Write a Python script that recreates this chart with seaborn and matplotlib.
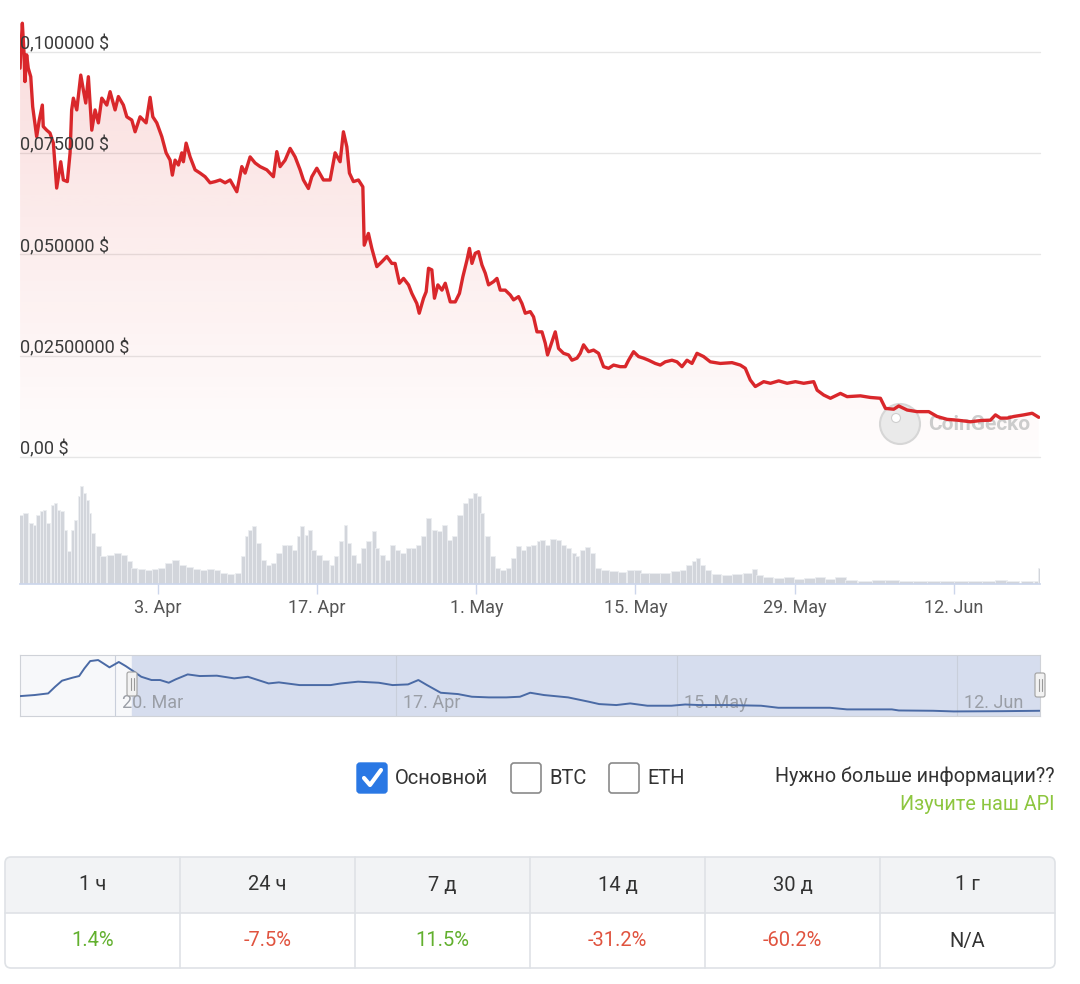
import numpy as np
import pandas as pd
import matplotlib
matplotlib.use("Agg")
import matplotlib.pyplot as plt
import matplotlib.dates as mdates
import matplotlib.transforms as mtransforms
from matplotlib.colors import to_rgb
from matplotlib.patches import FancyBboxPatch, Rectangle, Circle
import seaborn as sns

start = pd.Timestamp("2023-03-21")

# price (USD), days after 21 Mar
price_day = [0.86, 0.94, 1.06, 1.21, 1.29, 1.44, 1.58, 1.80, 1.97, 2.09,
             2.32, 2.55, 2.82, 2.90, 3.20, 3.49, 3.79, 4.08, 4.44, 4.67,
             5.02, 5.26, 5.40, 5.55, 5.85, 6.20, 6.43, 6.64, 6.87, 7.17,
             7.46, 7.75, 8.05, 8.49, 8.78, 9.22, 9.51, 9.95, 10.25, 10.69,
             10.98, 11.42, 11.95, 12.30, 12.54, 12.89, 13.33, 13.71, 14.06, 14.26,
             14.50, 14.79, 15.09, 15.23, 15.47, 15.82, 16.26, 16.70, 17.14, 17.58,
             18.02, 18.46, 18.90, 19.34, 19.93, 20.37, 20.66, 21.10, 21.54, 21.98,
             22.57, 23.15, 23.45, 23.74, 24.18, 24.62, 25.06, 25.50, 25.79, 26.23,
             26.53, 26.97, 27.55, 28.14, 28.58, 29.02, 29.31, 29.61, 29.84, 30.19,
             30.63, 31.02, 31.14, 31.51,
             31.81, 32.25, 32.69, 33.13, 33.57, 33.86, 34.24, 34.60, 35.04, 35.33,
             35.77, 35.98, 36.36, 36.59, 36.80, 37.09, 37.32, 37.62, 37.98, 38.27,
             38.71, 39.15, 39.52, 39.82, 40.18, 40.40, 40.62, 40.91, 41.20, 41.50,
             41.79, 42.08, 42.52, 42.82, 43.11, 43.55, 43.99, 44.28, 44.72, 45.02,
             45.31, 45.75, 46.04, 46.34, 46.78, 47.07, 47.27, 47.51, 47.95, 48.24,
             48.68, 49.12, 49.42, 49.86, 50.15, 50.44, 50.88, 51.32, 51.76, 52.20,
             52.64, 53.08, 53.67, 54.11, 54.40, 54.84, 55.28, 55.72, 56.16, 56.75,
             57.19, 57.63, 58.22, 58.66, 59.10,
             59.54, 59.98, 60.42, 61.00, 61.59, 62.47, 63.50, 64.23, 64.67, 65.11,
             65.55, 66.29, 66.88, 67.61, 68.35, 69.08, 69.81, 70.69, 70.99, 71.57,
             72.16, 73.04, 73.63, 74.80, 75.68, 76.56, 77.00, 77.73, 78.17, 78.91,
             79.79, 80.81, 81.55, 82.43, 83.31, 84.48, 85.36, 86.24, 86.68, 87.12,
             87.71, 88.29, 89.17, 89.91, 90.49]
price_usd = [0.0960, 0.1010, 0.1071, 0.0997, 0.0927, 0.0993, 0.0960, 0.0939, 0.0865, 0.0840,
             0.0791, 0.0832, 0.0869, 0.0816, 0.0807, 0.0800, 0.0775, 0.0664, 0.0729, 0.0684,
             0.0680, 0.0751, 0.0857, 0.0886, 0.0857, 0.0943, 0.0906, 0.0874, 0.0939, 0.0807,
             0.0857, 0.0825, 0.0886, 0.0869, 0.0902, 0.0857, 0.0890, 0.0869, 0.0840, 0.0832,
             0.0803, 0.0840, 0.0825, 0.0888, 0.0840, 0.0825, 0.0791, 0.0751, 0.0733, 0.0696,
             0.0733, 0.0721, 0.0751, 0.0729, 0.0775, 0.0741, 0.0709, 0.0701, 0.0692, 0.0677,
             0.0680, 0.0684, 0.0677, 0.0684, 0.0655, 0.0717, 0.0701, 0.0741, 0.0726, 0.0717,
             0.0709, 0.0692, 0.0754, 0.0717, 0.0733, 0.0762, 0.0741, 0.0709, 0.0684, 0.0663,
             0.0692, 0.0713, 0.0684, 0.0684, 0.0751, 0.0729, 0.0803, 0.0766, 0.0701, 0.0680,
             0.0684, 0.0667, 0.0523, 0.0552,
             0.0515, 0.0470, 0.0482, 0.0495, 0.0478, 0.0478, 0.0429, 0.0441, 0.0425, 0.0404,
             0.0379, 0.0355, 0.0392, 0.0408, 0.0466, 0.0462, 0.0392, 0.0425, 0.0412, 0.0429,
             0.0383, 0.0383, 0.0404, 0.0445, 0.0486, 0.0515, 0.0478, 0.0503, 0.0507, 0.0474,
             0.0454, 0.0425, 0.0433, 0.0441, 0.0412, 0.0412, 0.0400, 0.0388, 0.0396, 0.0379,
             0.0355, 0.0359, 0.0346, 0.0309, 0.0309, 0.0281, 0.0252, 0.0272, 0.0309, 0.0268,
             0.0256, 0.0252, 0.0239, 0.0244, 0.0256, 0.0277, 0.0260, 0.0264, 0.0256, 0.0223,
             0.0219, 0.0227, 0.0223, 0.0223, 0.0239, 0.0260, 0.0248, 0.0244, 0.0239, 0.0231,
             0.0227, 0.0235, 0.0239, 0.0235, 0.0223,
             0.0239, 0.0231, 0.0256, 0.0248, 0.0235, 0.0231, 0.0233, 0.0227, 0.0219, 0.0190,
             0.0174, 0.0186, 0.0182, 0.0188, 0.0182, 0.0186, 0.0182, 0.0186, 0.0165, 0.0153,
             0.0145, 0.0157, 0.0149, 0.0151, 0.0147, 0.0145, 0.0120, 0.0118, 0.0126, 0.0116,
             0.0112, 0.0112, 0.0100, 0.0093, 0.0091, 0.0087, 0.0090, 0.0091, 0.0104, 0.0096,
             0.0096, 0.0100, 0.0104, 0.0108, 0.0098]

# trading volume (relative units)
vol_day = [0.92, 1.36, 1.82, 2.12, 2.43, 2.73, 3.03, 3.34, 3.70, 3.94,
           4.25, 4.55, 4.85, 5.16, 5.46, 5.76, 6.07, 6.28, 6.52, 6.82,
           7.03, 7.28, 7.73, 8.19, 8.79, 9.40, 10.01, 10.46, 10.92, 11.52,
           12.13, 12.74, 13.34, 13.94, 14.55, 15.16, 15.77, 16.37, 16.98, 17.59,
           18.19, 18.79, 19.40, 20.01, 20.47, 20.77, 21.07, 21.46, 21.83, 22.28,
           22.74, 23.19, 23.64, 24.10, 24.55, 25.01, 25.40, 25.70, 26.07, 26.37,
           26.68, 27.13, 27.74, 28.35, 28.65, 29.10, 29.50, 29.77, 30.17, 30.62,
           31.07, 31.53, 31.98, 32.29, 32.74, 33.19, 33.65, 34.10, 34.56, 35.02,
           35.47, 35.92, 36.38, 36.83, 37.29, 37.74, 38.20, 38.65, 39.10, 39.56,
           40.02, 40.47, 40.86, 41.23, 41.53, 41.99, 42.44, 42.89, 43.35, 43.80,
           44.26, 44.71, 45.17, 45.62, 46.07, 46.53,
           46.84, 47.29, 47.75, 48.20, 48.65, 49.11, 49.57, 49.87, 50.33, 50.77,
           51.23, 51.69, 52.30, 53.05, 53.81, 54.57, 55.18, 55.78, 56.69, 57.60,
           58.51, 59.27, 59.72, 60.18, 60.48, 60.93, 61.39, 62.15, 63.05, 63.96,
           64.88, 65.48, 65.93, 66.69, 67.61, 68.52, 69.42, 70.33, 71.24, 72.15,
           73.05, 73.97, 75.19, 76.39, 77.61, 78.82, 80.03, 81.24, 82.45, 83.67,
           84.88, 86.09, 87.16, 88.21, 89.43, 90.33, 90.58]
vol_amount = [71.6, 73.0, 63.0, 61.0, 71.6, 75.0, 76.8, 63.0, 82.0, 83.7,
              76.8, 75.0, 56.0, 33.8, 56.0, 66.5, 90.6, 100.9, 94.0, 87.0,
              73.0, 52.7, 38.9, 28.6, 30.3, 32.0, 30.3, 23.4, 16.5, 15.8,
              14.8, 15.5, 16.5, 21.7, 25.1, 20.0, 17.2, 15.8, 14.1, 15.5,
              14.8, 11.4, 10.7, 11.4, 28.6, 49.2, 56.0, 60.3, 42.4, 25.1,
              20.0, 21.7, 32.0, 40.6, 40.6, 35.5, 49.2, 59.6, 51.0, 56.0,
              35.5, 30.3, 25.1, 20.0, 28.6, 44.0, 61.3, 42.4, 30.3, 21.7,
              37.2, 44.0, 54.4, 37.2, 30.3, 25.1, 40.6, 35.5, 32.0, 37.2,
              37.2, 40.6, 49.2, 68.2, 56.0, 54.4, 61.3, 45.8, 49.2, 71.6,
              83.7, 88.8, 94.0, 90.6, 73.0, 49.2, 28.6, 16.5, 14.8, 16.5,
              26.9, 39.6, 35.5, 38.9, 40.6, 44.0,
              45.8, 40.6, 46.5, 45.8, 40.6, 37.2, 32.0, 28.6, 35.5, 38.2,
              32.0, 16.5, 14.1, 13.1, 12.0, 14.1, 14.8, 11.4, 11.4, 11.4,
              13.1, 14.8, 20.0, 23.4, 26.9, 20.0, 14.8, 10.7, 9.6, 10.7,
              11.4, 15.8, 9.6, 7.2, 6.2, 6.9, 5.5, 6.2, 6.9, 5.5,
              6.9, 3.8, 3.4, 3.8, 4.5, 3.4, 2.8, 2.8, 3.1, 3.1,
              3.4, 3.4, 4.5, 3.4, 3.1, 3.4, 16.5]

# navigator (daily) price
nav_day = [-10.47, -9.03, -7.66, -6.97, -6.28, -5.25, -4.57, -4.05, -3.47, -2.68,
           -2.16, -1.55, -0.62, 0.07, 0.76, 1.62, 2.64, 3.50, 4.36, 5.05,
           6.25, 7.45, 9.16, 10.89, 12.25, 14.32, 15.34, 17.41, 20.50, 21.52,
           23.24, 25.30, 26.68, 28.22, 29.25, 30.11, 31.48, 33.20, 34.58, 36.29,
           38.01, 39.38, 40.40, 41.78, 44.18, 46.25, 47.28, 48.99, 50.37, 52.08,
           54.49, 55.86, 57.24, 59.98, 63.42, 65.14, 70.28, 71.99, 76.46, 77.15,
           80.58, 82.64, 87.45, 91.20]
nav_usd = [0.0449, 0.0473, 0.0510, 0.0660, 0.0797, 0.0864, 0.0902, 0.1074, 0.1240, 0.1263,
           0.1188, 0.1098, 0.1219, 0.1127, 0.1022, 0.0886, 0.0812, 0.0812, 0.0751, 0.0827,
           0.0939, 0.0902, 0.0910, 0.0849, 0.0886, 0.0735, 0.0759, 0.0698, 0.0698, 0.0735,
           0.0775, 0.0751, 0.0698, 0.0713, 0.0812, 0.0698, 0.0525, 0.0495, 0.0435, 0.0420,
           0.0420, 0.0435, 0.0525, 0.0473, 0.0420, 0.0322, 0.0269, 0.0247, 0.0284, 0.0232,
           0.0232, 0.0260, 0.0247, 0.0247, 0.0232, 0.0186, 0.0186, 0.0149, 0.0149, 0.0125,
           0.0118, 0.0103, 0.0109, 0.0118]

y_ticks = [0, 0.025, 0.05, 0.075, 0.1]
y_labels = ["0,00 $", "0,02500000 $", "0,050000 $", "0,075000 $", "0,100000 $"]
main_ticks = ["2023-04-03", "2023-04-17", "2023-05-01", "2023-05-15", "2023-05-29", "2023-06-12"]
nav_ticks = ["2023-03-20", "2023-04-17", "2023-05-15", "2023-06-12"]

currencies = ["Основной", "BTC", "ETH"]
checked = [True, False, False]
periods = ["1 ч", "24 ч", "7 д", "14 д", "30 д", "1 г"]
changes = [1.4, -7.5, 11.5, -31.2, -60.2, None]

price = pd.DataFrame({"date": start + pd.to_timedelta(price_day, unit="D"), "usd": price_usd})
volume = pd.DataFrame({"date": start + pd.to_timedelta(vol_day, unit="D"), "amount": vol_amount})
nav = pd.DataFrame({"date": start + pd.to_timedelta(nav_day, unit="D"), "usd": nav_usd})

sns.set_theme(style="white")
plt.rcParams["font.family"] = ["Roboto", "DejaVu Sans"]

W, H = 1080, 984
fig = plt.figure(figsize=(W / 100, H / 100), dpi=100, facecolor="white")


def box(l, t, r, b):
    return [l / W, 1 - b / H, (r - l) / W, (b - t) / H]


def day_fmt(v, pos=None):
    d = mdates.num2date(v)
    return f"{d.day}. {d:%b}"


x_lo = mdates.date2num(start + pd.Timedelta(days=0.854))
x_hi = mdates.date2num(start + pd.Timedelta(days=90.6))
y_top = 0.1079

# ---- main price chart
ax = fig.add_axes(box(20, 20, 1040, 457))
ax.patch.set_alpha(0)
sns.lineplot(data=price, x="date", y="usd", ax=ax, color="#d9272b", linewidth=2.4,
             errorbar=None, zorder=4)
poly = ax.fill_between(price["date"], price["usd"], 0, color="none")
grad = np.zeros((256, 1, 4))
grad[:, 0, :3] = to_rgb("#e0312f")
grad[:, 0, 3] = np.linspace(0.17, 0.01, 256)
im = ax.imshow(grad, extent=[x_lo, x_hi, 0, y_top], aspect="auto", origin="upper", zorder=1)
im.set_clip_path(poly.get_paths()[0], transform=ax.transData)
ax.set_xlim(x_lo, x_hi)
ax.set_ylim(0, y_top)
lab_tr = mtransforms.blended_transform_factory(ax.transAxes, ax.transData)
for t, lab in zip(y_ticks, y_labels):
    ax.axhline(t, color="#e6e6e6", lw=1, zorder=0.5, clip_on=False)
    ax.annotate(lab, (0, t), xycoords=lab_tr, xytext=(0, -1), textcoords="offset points",
                ha="left", va="bottom", fontsize=13, color="#3a3a3a", zorder=5)
ax.set_xticks([])
ax.set_yticks([])
ax.set_xlabel("")
ax.set_ylabel("")
sns.despine(ax=ax, left=True, bottom=True)

# ---- volume
ax_v = fig.add_axes(box(20, 484, 1040, 584))
widths = np.gradient(np.array(vol_day))
ax_v.bar(volume["date"], volume["amount"], width=widths, color="#d2d5db",
         edgecolor="#eceef1", linewidth=0.6)
ax_v.set_xlim(x_lo, x_hi)
ax_v.set_ylim(0, 103.3)
ax_v.set_yticks([])
ax_v.set_xticks(mdates.date2num(pd.to_datetime(main_ticks)))
ax_v.xaxis.set_major_formatter(plt.FuncFormatter(day_fmt))
ax_v.tick_params(axis="x", length=7.5, width=1, color="#ccd6eb", pad=3,
                 labelsize=13, labelcolor="#555555", bottom=True)
for s in ["left", "right", "top"]:
    ax_v.spines[s].set_visible(False)
ax_v.spines["bottom"].set_color("#ccd6eb")

# ---- navigator
ax_n = fig.add_axes(box(20, 655, 1040, 716))
ax_n.set_facecolor("#f7f8fa")
nav_lo = mdates.date2num(start + pd.Timedelta(days=-10.47))
nav_hi = mdates.date2num(start + pd.Timedelta(days=91.23))
sel_lo = mdates.date2num(start + pd.Timedelta(days=0.70))
ax_n.axvspan(sel_lo, nav_hi, color="#d6ddee", zorder=0)
for d in nav_ticks:
    xv = mdates.date2num(pd.Timestamp(d))
    ax_n.axvline(xv, color="#c9cfdb", lw=0.8, zorder=0.5)
    ax_n.annotate(day_fmt(xv), (xv, 0.21), xycoords=("data", "axes fraction"),
                  xytext=(5, 0), textcoords="offset points", ha="left", va="center",
                  fontsize=13, color="#9a9ea6", zorder=1)
sns.lineplot(data=nav, x="date", y="usd", ax=ax_n, color="#4a6aa5", linewidth=1.4,
             errorbar=None, zorder=3)
ax_n.set_xlim(nav_lo, nav_hi)
ax_n.set_ylim(0, 0.1377)
ax_n.set_xticks([])
ax_n.set_yticks([])
ax_n.set_xlabel("")
ax_n.set_ylabel("")
for s in ax_n.spines.values():
    s.set_color("#cfd2d8")
    s.set_linewidth(0.8)

# ---- page elements drawn in pixel coordinates
ui = fig.add_axes([0, 0, 1, 1], zorder=10)
ui.set_xlim(0, W)
ui.set_ylim(H, 0)
ui.patch.set_alpha(0)
ui.axis("off")

# watermark under the price line
ax.add_patch(Circle((900, 424), 20, transform=ui.transData, fc="#eaeaea", ec="#d6d6d6",
                    lw=1.5, zorder=2, clip_on=False))
ax.add_patch(Circle((896, 418), 4.5, transform=ui.transData, fc="white", ec="#cfcfcf",
                    lw=0.8, zorder=2, clip_on=False))
ax.text(928, 424, "CoinGecko", transform=ui.transData, fontsize=15, fontweight="bold",
        color="#cccccc", va="center", ha="left", zorder=2, clip_on=False)

# navigator handles
for hx, hy in [(132, 684), (1040, 685)]:
    ui.add_patch(FancyBboxPatch((hx - 5, hy - 12), 10, 24,
                                boxstyle="round,pad=0,rounding_size=2",
                                fc="#f2f2f2", ec="#a0a0a0", lw=0.8))
    for dx in (-1.5, 1.5):
        ui.plot([hx + dx, hx + dx], [hy - 6, hy + 6], color="#999999", lw=0.8)

# currency checkboxes
box_x = [357, 511, 609]
for bx, name, on in zip(box_x, currencies, checked):
    if on:
        ui.add_patch(FancyBboxPatch((bx, 763), 30, 30, boxstyle="round,pad=0,rounding_size=3",
                                    fc="#2a78e4", ec="#2a78e4", lw=1))
        ui.plot([bx + 7, bx + 13, bx + 24], [778, 785, 770], color="white", lw=3,
                solid_capstyle="round", solid_joinstyle="round")
    else:
        ui.add_patch(FancyBboxPatch((bx, 763), 30, 30, boxstyle="round,pad=0,rounding_size=3",
                                    fc="white", ec="#8a8a8a", lw=1.2))
    ui.text(bx + 38, 778, name, fontsize=14.5, color="#333333", va="center", ha="left")

ui.text(1055, 776, "Нужно больше информации??", fontsize=14.2, color="#333333",
        va="center", ha="right")
ui.text(1055, 804, "Изучите наш API", fontsize=14.2, color="#8dc63f", va="center", ha="right")

# price change table
t_left, t_right, t_top, t_mid, t_bot = 5, 1055, 857, 913, 968
ui.add_patch(FancyBboxPatch((t_left, t_top), t_right - t_left, t_bot - t_top,
                            boxstyle="round,pad=0,rounding_size=6", fc="#f2f3f5", ec="none"))
ui.add_patch(FancyBboxPatch((t_left, t_mid), t_right - t_left, t_bot - t_mid,
                            boxstyle="round,pad=0,rounding_size=6", fc="white", ec="none"))
ui.add_patch(Rectangle((t_left, t_mid), t_right - t_left, 12, fc="white", ec="none"))
ui.add_patch(FancyBboxPatch((t_left, t_top), t_right - t_left, t_bot - t_top,
                            boxstyle="round,pad=0,rounding_size=6", fc="none", ec="#dfe2e6", lw=1.2))
ui.plot([t_left, t_right], [t_mid, t_mid], color="#dfe2e6", lw=1.2)
col_w = (t_right - t_left) / len(periods)
for i, (per, ch) in enumerate(zip(periods, changes)):
    cx = t_left + col_w * (i + 0.5)
    if i > 0:
        ui.plot([t_left + col_w * i] * 2, [t_top, t_bot], color="#dfe2e6", lw=1.2)
    ui.text(cx, 885, per, fontsize=14.5, color="#333333", ha="center", va="center")
    if ch is None:
        txt, col = "N/A", "#333333"
    else:
        txt, col = f"{ch}%", ("#62b02e" if ch >= 0 else "#e0533f")
    ui.text(cx, 941, txt, fontsize=14.5, color=col, ha="center", va="center")

fig.savefig("out.png", dpi=100, facecolor="white")
